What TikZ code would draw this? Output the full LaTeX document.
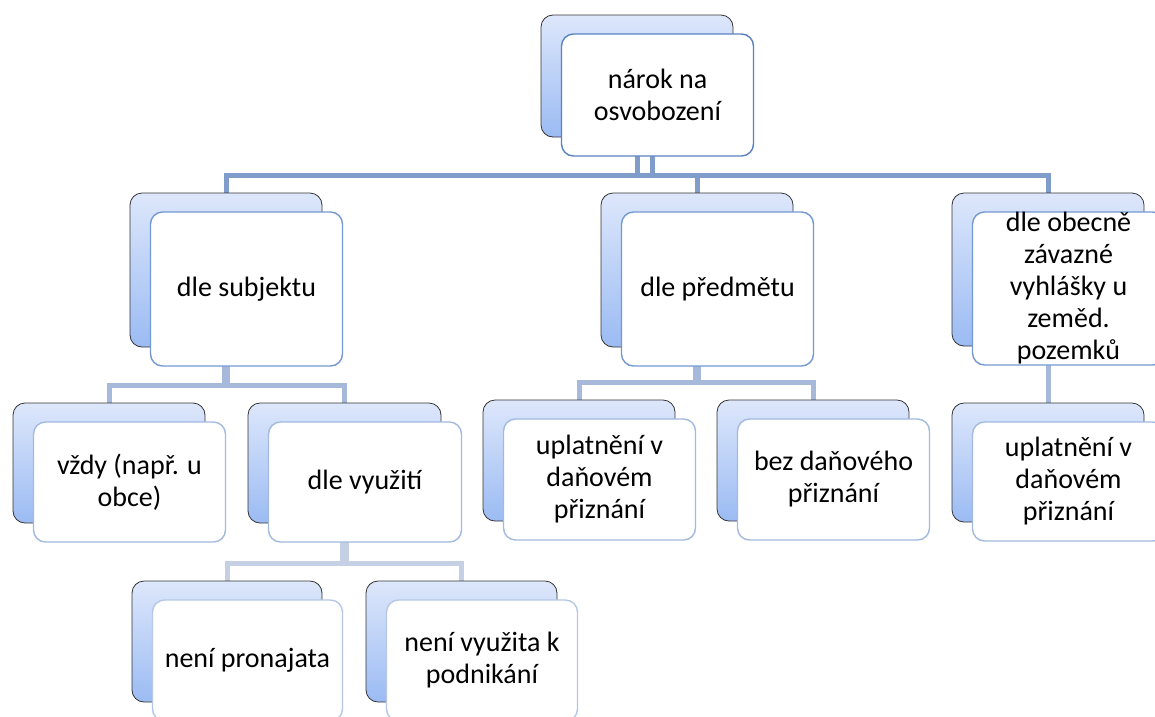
\documentclass[tikz,border=0pt]{standalone}
\usepackage{fontspec}
\setmainfont{Carlito}
\usetikzlibrary{backgrounds,calc}
\definecolor{backtop}{HTML}{DDE7FB}
\definecolor{backbot}{HTML}{9BBBF3}
\definecolor{fr1}{HTML}{5A82C0}
\definecolor{fr2}{HTML}{7499D2}
\definecolor{fr3}{HTML}{A2B9E0}
\definecolor{fr4}{HTML}{B6C7E6}
\definecolor{cn1}{HTML}{7F9CCB}
\definecolor{cn2}{HTML}{A7B9DA}
\definecolor{cn3}{HTML}{C6D0E4}
\tikzset{
  backbox/.style={rectangle, rounded corners=12pt, top color=backtop, bottom color=backbot,
    draw=black!80, line width=0.8pt, inner sep=0pt, outer sep=0pt, anchor=north west},
  frontbox/.style={rectangle, rounded corners=12pt, fill=white, line width=1.4pt,
    inner sep=0pt, outer sep=0pt, anchor=north west, align=center,
    font=\fontsize{28}{32}\selectfont, text=black},
  lv1/.style={draw=fr1},
  lv2/.style={draw=fr2},
  lv3/.style={draw=fr3},
  lv4/.style={draw=fr4},
  conn/.style={line width=5pt, line join=miter},
}
\newcommand\pairbox[7]{%
  \node[backbox, minimum width=#4pt, minimum height=#5pt] (#1bk) at (#2,#3) {};
  \node[frontbox, #6, minimum width=#4pt, minimum height=#5pt] (#1) at ([shift={(20.5pt,-19pt)}]#1bk.north west) {#7};
}
\begin{document}
\begin{tikzpicture}[x=1pt,y=-1pt]
\useasboundingbox (0,0) rectangle (1155,716);
\clip (0,0) rectangle (1155,716);

% level 1
\pairbox{T}{541}{15}{192}{122}{lv1}{nárok na\\osvobození}
% level 2
\pairbox{A}{130}{193}{192}{154}{lv2}{dle subjektu}
\pairbox{B}{601}{193}{192}{154}{lv2}{dle předmětu}
\pairbox{C}{952}{193}{192}{153}{lv2}{dle obecně\\závazné\\vyhlášky u\\zeměd.\\pozemků}
% level 3
\pairbox{Ax}{13}{403}{192}{120}{lv3}{vždy (např. u\\obce)}
\pairbox{Ay}{248}{403}{193}{120}{lv3}{dle využití}
\pairbox{Bx}{483}{400}{192}{121}{lv3}{uplatnění v\\daňovém\\přiznání}
\pairbox{By}{717}{400}{192}{121}{lv3}{bez daňového\\přiznání}
\pairbox{Cx}{952}{403}{192}{119}{lv3}{uplatnění v\\daňovém\\přiznání}
% level 4
\pairbox{Ayx}{132}{581}{190}{121}{lv4}{není pronajata}
\pairbox{Ayy}{366}{581}{191}{121}{lv4}{není využita k\\podnikání}

\begin{scope}[on background layer]
  \fill[white] (0,0) rectangle (1155,716);
  % from top
  \foreach \c in {Abk,Bbk,Cbk}{
    \draw[conn, draw=cn1] (Tbk.south) -- ++(0,38) -| (\c.north);
  }
  \draw[conn, draw=cn1] ([xshift=15pt]Tbk.south) -- ++(0,38);
  % from dle subjektu
  \draw[conn, draw=cn2, line width=8pt] (Abk.south) -- ++(0,38);
  \foreach \c in {Axbk,Aybk}{
    \draw[conn, draw=cn2] (Abk.south) ++(0,38) -| (\c.north);
  }
  % from dle predmetu
  \draw[conn, draw=cn2, line width=8pt] (Bbk.south) -- ++(0,35);
  \foreach \c in {Bxbk,Bybk}{
    \draw[conn, draw=cn2] (Bbk.south) ++(0,35) -| (\c.north);
  }
  % from dle obecne
  \draw[conn, draw=cn2] (Cbk.south) -- (Cxbk.north);
  % from dle vyuziti
  \draw[conn, draw=cn3, line width=9pt] (Aybk.south) -- ++(0,40);
  \foreach \c in {Ayxbk,Ayybk}{
    \draw[conn, draw=cn3] (Aybk.south) ++(0,40) -| (\c.north);
  }
\end{scope}
\end{tikzpicture}
\end{document}
